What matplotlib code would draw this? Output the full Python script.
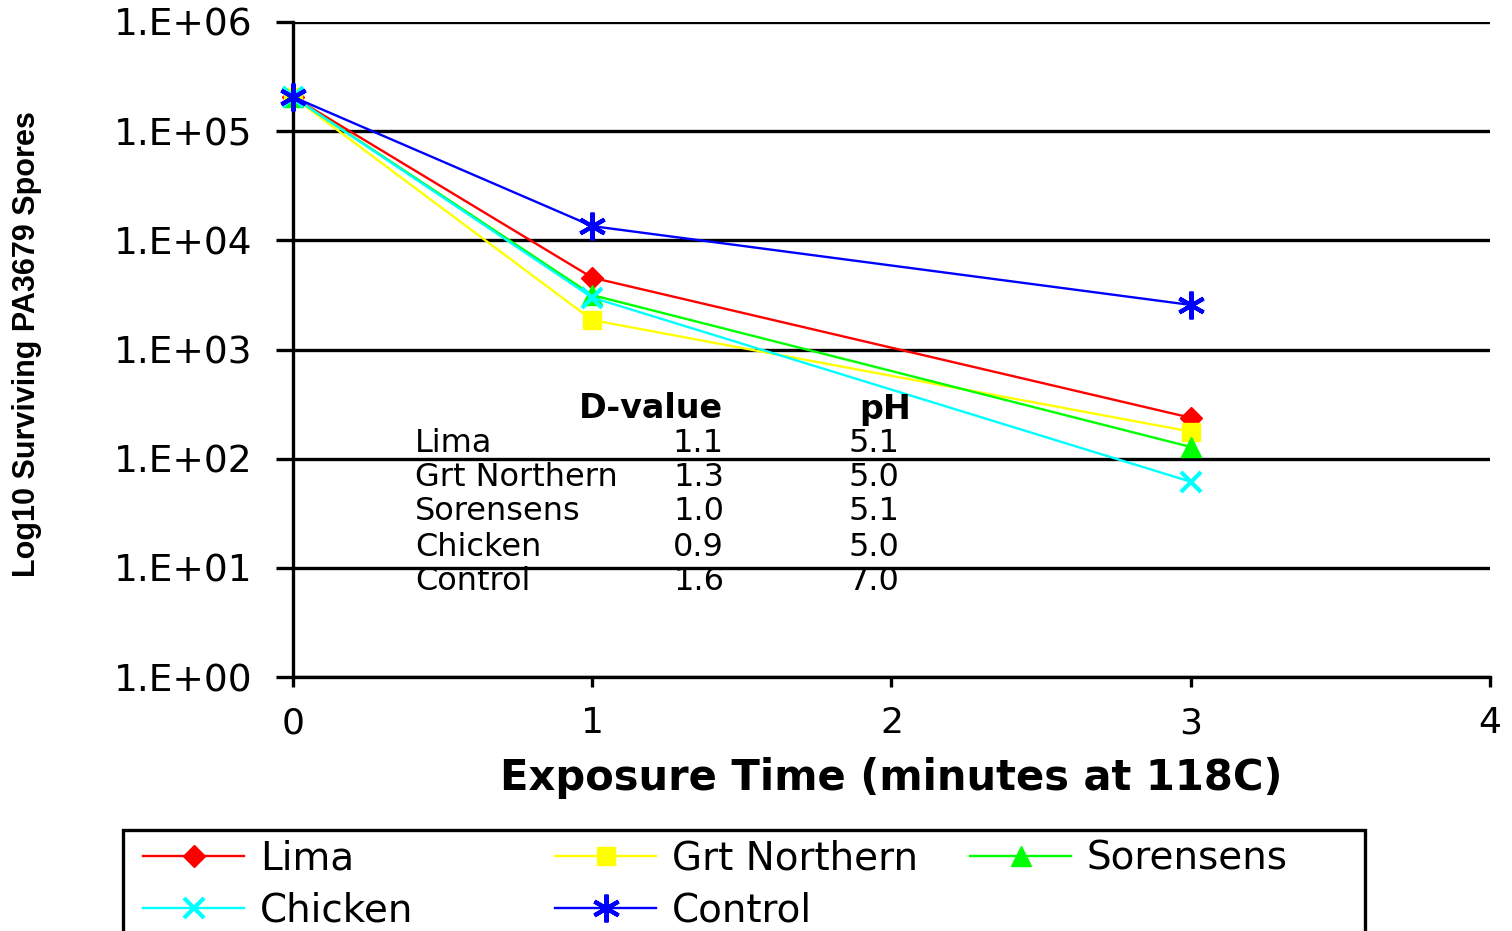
import numpy as np
import matplotlib
matplotlib.use("Agg")
import matplotlib.pyplot as plt
from matplotlib.patches import Rectangle

# data
times = [0, 1, 3]
lima = [2.06e5, 4550, 237]
grt_northern = [2.06e5, 1860, 177]
sorensens = [2.06e5, 3150, 128]
chicken = [2.06e5, 2990, 61.5]
control = [2.06e5, 13500, 2560]

series_names = ['Lima', 'Grt Northern', 'Sorensens', 'Chicken', 'Control']
d_values = ['1.1', '1.3', '1.0', '0.9', '1.6']
ph_values = ['5.1', '5.0', '5.1', '5.0', '7.0']

ytick_vals = [1, 10, 100, 1e3, 1e4, 1e5, 1e6]
ytick_labels = ['1.E+00', '1.E+01', '1.E+02', '1.E+03', '1.E+04', '1.E+05', '1.E+06']
xtick_vals = [0, 1, 2, 3, 4]

plt.rcParams['font.family'] = ['DejaVu Sans']

fig = plt.figure(figsize=(15.12, 9.31), dpi=100)
ax = fig.add_axes([293/1512, 1 - 677/931, (1490 - 293)/1512, (677 - 22)/931])

styles = [
    dict(color='#FF0000', marker='D', ms=11),
    dict(color='#FFFF00', marker='s', ms=13),
    dict(color='#00FF00', marker='^', ms=15),
    dict(color='#00FFFF', marker='x', ms=14, mew=3),
    dict(color='#0000FF', marker=(6, 2, 0), ms=20, mew=3),
]
all_series = [lima, grt_northern, sorensens, chicken, control]
handles = []
for name, vals, st in zip(series_names, all_series, styles):
    h, = ax.plot(times, vals, lw=1.7, label=name, clip_on=False, zorder=3, **st)
    handles.append(h)

ax.set_yscale('log')
ax.set_ylim(1, 1e6)
ax.set_xlim(0, 4)
ax.set_yticks(ytick_vals)
ax.set_yticklabels(ytick_labels)
ax.yaxis.set_minor_locator(matplotlib.ticker.NullLocator())
ax.set_xticks(xtick_vals)
ax.set_xticklabels([str(v) for v in xtick_vals])
ax.grid(axis='y', color='black', lw=2.4)
ax.set_axisbelow(True)
for s in ['top', 'right']:
    ax.spines[s].set_visible(False)
for s in ['left', 'bottom']:
    ax.spines[s].set_linewidth(2.4)
ax.tick_params(axis='y', length=12, width=2.4, pad=17, labelsize=27)
ax.tick_params(axis='x', length=7, width=2.4, pad=14, labelsize=26)

ax.set_xlabel('Exposure Time (minutes at 118C)', fontsize=30, fontweight='bold', labelpad=12)
fig.text(27/1512, 1 - 344/931, 'Log10 Surviving PA3679 Spores', rotation=90,
         ha='center', va='center', fontsize=22, fontweight='bold',
         family=['Liberation Sans', 'DejaVu Sans'])

# D-value table inside the plot
tx = ax.transAxes
def fx(px):
    return (px - 293) / (1490 - 293)
def fy(py):
    return (677 - py) / (677 - 22)
ax.text(fx(651), fy(409), 'D-value', transform=tx, ha='center', va='center',
        fontsize=24, fontweight='bold')
ax.text(fx(885), fy(409), 'pH', transform=tx, ha='center', va='center',
        fontsize=24, fontweight='bold')
row_y = [443, 477, 512, 547, 582]
for name, d, ph, py in zip(series_names, d_values, ph_values, row_y):
    ax.text(fx(415), fy(py), name, transform=tx, ha='left', va='center', fontsize=23)
    ax.text(fx(724), fy(py), d, transform=tx, ha='right', va='center', fontsize=23)
    ax.text(fx(874), fy(py), ph, transform=tx, ha='center', va='center', fontsize=23)

# legend, three columns placed separately
cols = [([handles[0], handles[3]], 143), ([handles[1], handles[4]], 555), ([handles[2]], 970)]
for hs, px in cols:
    fig.legend(handles=hs, loc='upper left', bbox_to_anchor=(px/1512, 1 - 840/931),
               frameon=False, fontsize=28, handlelength=2.6, handletextpad=0.4,
               labelspacing=0.36, borderpad=0, borderaxespad=0)
fig.add_artist(Rectangle((123/1512, -0.01), (1365 - 123)/1512, 1 - 830/931 + 0.01,
                         transform=fig.transFigure, fill=False, ec='black', lw=2.4,
                         clip_on=False))

fig.savefig('out.png', dpi=100)
